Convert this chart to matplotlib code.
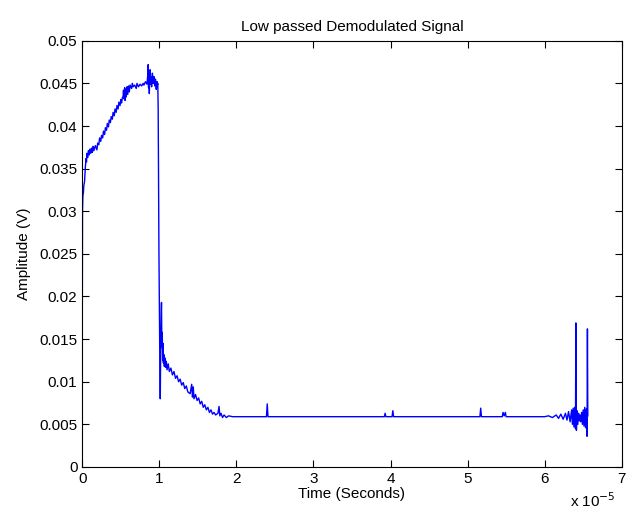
import matplotlib.pyplot as plt

plt.rcParams['font.family'] = ['Liberation Sans', 'DejaVu Sans']

# time in units of 1e-5 s, amplitude in volts
t_rise = [0.000, 0.003, 0.008, 0.015, 0.020, 0.030, 0.040, 0.050, 0.055, 0.060,
          0.070, 0.080, 0.090, 0.100, 0.110, 0.120, 0.130, 0.140, 0.150, 0.170,
          0.190, 0.200, 0.215, 0.225, 0.240, 0.250, 0.265, 0.275, 0.290, 0.300,
          0.315, 0.325, 0.340, 0.350, 0.365, 0.375, 0.390, 0.400, 0.415, 0.425,
          0.440, 0.450, 0.465, 0.475, 0.490, 0.500, 0.510, 0.520,
          0.530, 0.535, 0.540, 0.550, 0.555, 0.560, 0.570, 0.580, 0.590, 0.600,
          0.610, 0.620, 0.640, 0.650, 0.660, 0.680, 0.700, 0.710, 0.730, 0.750,
          0.770, 0.790, 0.800, 0.820, 0.840, 0.850, 0.855, 0.860, 0.865, 0.870,
          0.875, 0.880, 0.885, 0.890, 0.900, 0.910, 0.920, 0.930, 0.940, 0.950,
          0.960, 0.970, 0.975, 0.980]
v_rise = [0.0165, 0.0300, 0.0318, 0.0322, 0.0330, 0.0335, 0.0352, 0.0362, 0.0358, 0.0368,
          0.0363, 0.0371, 0.0366, 0.0373, 0.0368, 0.0374, 0.0369, 0.0376, 0.0371, 0.0377,
          0.0372, 0.0380, 0.0378, 0.0386, 0.0382, 0.0389, 0.0386, 0.0394, 0.0390, 0.0398,
          0.0395, 0.0403, 0.0399, 0.0407, 0.0404, 0.0411, 0.0408, 0.0416, 0.0412, 0.0420,
          0.0416, 0.0424, 0.0420, 0.0428, 0.0424, 0.0431, 0.0427, 0.0433,
          0.0435, 0.0442, 0.0432, 0.0445, 0.0430, 0.0443, 0.0434, 0.0446, 0.0437, 0.0447,
          0.0440, 0.0448, 0.0444, 0.0450, 0.0446, 0.0448, 0.0444, 0.0450, 0.0446, 0.0449,
          0.0447, 0.0450, 0.0448, 0.0452, 0.0449, 0.0460, 0.0472, 0.0445, 0.0458, 0.0438,
          0.0455, 0.0466, 0.0449, 0.0458, 0.0446, 0.0462, 0.0450, 0.0458, 0.0447, 0.0455,
          0.0443, 0.0452, 0.0448, 0.0450]

t_decay = [0.985, 0.995, 1.005, 1.012, 1.020, 1.028, 1.033, 1.038, 1.043, 1.048,
           1.053, 1.058, 1.065, 1.072, 1.080, 1.090, 1.100, 1.115, 1.130, 1.150,
           1.170, 1.190, 1.210, 1.230, 1.250, 1.270, 1.290, 1.310, 1.330, 1.350,
           1.370, 1.400, 1.420, 1.430, 1.440, 1.450, 1.470, 1.490, 1.510, 1.530,
           1.550, 1.570, 1.590, 1.610, 1.630, 1.650, 1.670, 1.690, 1.710, 1.730,
           1.760, 1.775, 1.785, 1.800, 1.820, 1.840, 1.870, 1.900, 1.950]
v_decay = [0.0420, 0.0250, 0.0140, 0.0080, 0.0160, 0.0193, 0.0140, 0.0158, 0.0125, 0.0145,
           0.0122, 0.0132, 0.0118, 0.0128, 0.0117, 0.0124, 0.0114, 0.0121, 0.0112, 0.0116,
           0.0108, 0.0112, 0.0104, 0.0107, 0.0100, 0.0103, 0.0096, 0.0099, 0.0092, 0.0095,
           0.0088, 0.0086, 0.0097, 0.0082, 0.0094, 0.0080, 0.0085, 0.0078, 0.0081, 0.0074,
           0.0077, 0.0070, 0.0073, 0.0067, 0.0070, 0.0064, 0.0067, 0.0062, 0.0064, 0.0061,
           0.0063, 0.0071, 0.0060, 0.0063, 0.0058, 0.0061, 0.0058, 0.0060, 0.0059]

t_flat = [2.000, 2.390, 2.400, 2.410, 3.920, 3.930, 3.940, 4.020, 4.030, 4.040,
          5.160, 5.170, 5.180, 5.450, 5.460, 5.475, 5.490, 5.500, 5.900]
v_flat = [0.0059, 0.0059, 0.0074, 0.0059, 0.0059, 0.0063, 0.0059, 0.0059, 0.0066, 0.0059,
          0.0059, 0.0069, 0.0059, 0.0059, 0.0064, 0.0060, 0.0064, 0.0059, 0.0059]

t_end = [6.000, 6.050, 6.100, 6.150, 6.180, 6.210, 6.240, 6.270, 6.290, 6.310,
         6.330, 6.350, 6.360, 6.370, 6.380, 6.390, 6.400, 6.405, 6.412, 6.420,
         6.430, 6.440, 6.450, 6.460, 6.470, 6.480, 6.490, 6.500, 6.510, 6.520,
         6.530, 6.540, 6.550, 6.555, 6.560]
v_end = [0.0059, 0.0060, 0.0058, 0.0061, 0.0057, 0.0062, 0.0056, 0.0063, 0.0055, 0.0065,
         0.0053, 0.0067, 0.0050, 0.0069, 0.0047, 0.0070, 0.0045, 0.0169, 0.0043, 0.0066,
         0.0050, 0.0063, 0.0054, 0.0061, 0.0053, 0.0064, 0.0050, 0.0067, 0.0048, 0.0070,
         0.0046, 0.0068, 0.0036, 0.0162, 0.0060]

time = t_rise + t_decay + t_flat + t_end
amp = v_rise + v_decay + v_flat + v_end

fig = plt.figure(figsize=(6.28, 5.16), dpi=100)
ax = fig.add_axes([0.131, 0.095, 0.859, 0.826])
ax.plot(time, amp, color='#0000ff', linewidth=1.0)

ax.set_xlim(0, 7)
ax.set_ylim(0, 0.05)
ax.set_xticks(range(8))
ax.set_yticks([i * 0.005 for i in range(11)])
ax.set_yticklabels(['0', '0.005', '0.01', '0.015', '0.02', '0.025', '0.03',
                    '0.035', '0.04', '0.045', '0.05'])
ax.tick_params(direction='in', top=True, right=True, length=5, labelsize=11)
for s in ax.spines.values():
    s.set_linewidth(0.8)

ax.set_title('Low passed Demodulated Signal', fontsize=11, pad=7)
ax.set_xlabel('Time (Seconds)', fontsize=11, labelpad=1)
ax.set_ylabel('Amplitude (V)', fontsize=11, labelpad=6)
fig.text(0.908, 0.018, r'x 10$^{-5}$', fontsize=11)

fig.savefig('out.png')
